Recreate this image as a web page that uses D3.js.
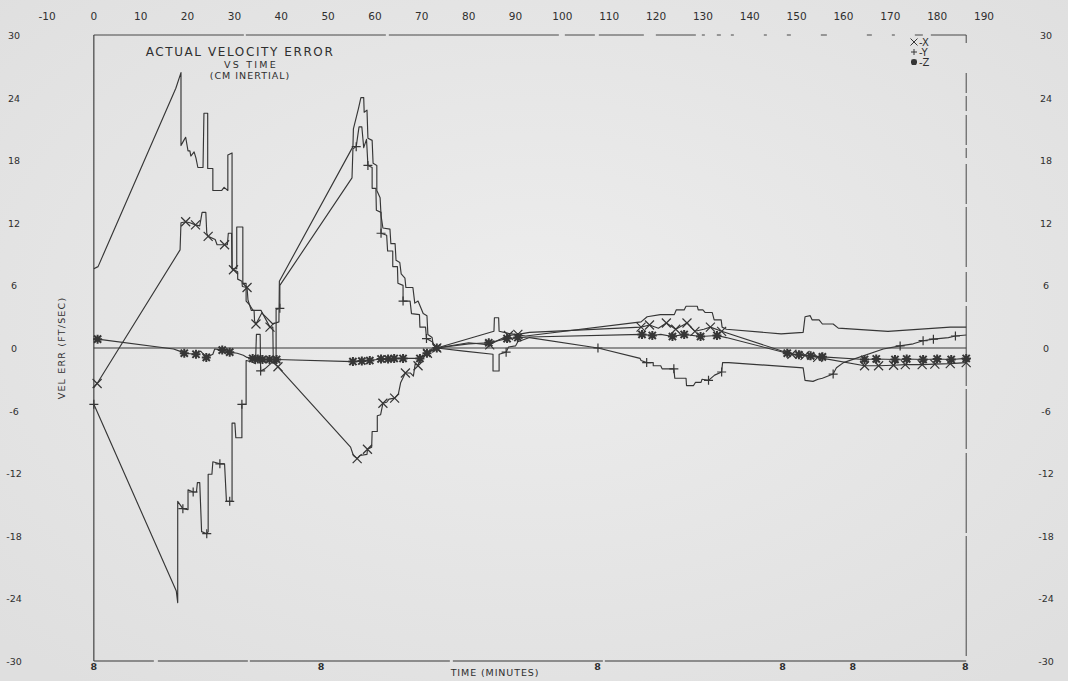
<!DOCTYPE html>
<html>
<head>
<meta charset="utf-8">
<script src="https://cdn.jsdelivr.net/npm/d3@7"></script>
<style>
  html, body { margin: 0; padding: 0; background: #e3e3e3; }
  svg { display: block; }
  text { font-family: "DejaVu Sans", sans-serif; fill: #2f2f2f; }
</style>
</head>
<body>
<div id="chart"></div>
<script>
// tick labels
const timeTicks = [-10, 0, 10, 20, 30, 40, 50, 60, 70, 80, 90, 100, 110, 120, 130, 140, 150, 160, 170, 180, 190];
const velTicks = [30, 24, 18, 12, 6, 0, -6, -12, -18, -24, -30];
const bottomMarks = [0, 48.5, 107.5, 147, 162, 186];   // the little "8" flags under the frame
const titleLines = ['ACTUAL VELOCITY ERROR', 'VS TIME', '(CM INERTIAL)'];

// [minutes, ft/sec, marker?]
const magPts = [[0,7.6],[0.9,7.8],[17.5,24.9],[18.6,26.4],[18.6,19.4],[19.2,19.9],[19.6,20.2],[20.1,18.9],[20.5,18.9],
  [20.7,18.4],[21.4,18.8],[21.8,18.2],[22.2,17.3],[23.3,17.3],[23.5,22.5],[24.3,22.5],[24.3,17.2],[25.4,17.2],[25.4,15.1],
  [27.3,15.1],[27.8,15.4],[28.6,15.1],[28.6,18.5],[29.5,18.7],[29.5,7.6],[30.5,7.6],[30.5,11.6],[31.8,11.6],[31.8,6.2],
  [32.5,6.2],[32.5,4.5],[33.3,4.1],[34.0,3.6],[35.7,3.6],[36.0,3.3],[38.2,2.3],[39.5,2.5],[39.6,6.4],[55.3,19.3],[55.4,21.0],
  [56.5,23.0],[57.0,24.0],[57.6,24.0],[57.7,22.6],[58.3,22.8],[58.5,20.1],[59.4,19.9],[59.6,17.7],[60.4,17.5],[60.4,15.1],
  [61.1,14.4],[61.3,12.7],[61.7,11.5],[63.2,11.4],[63.4,10.0],[64.3,10.0],[64.5,8.4],[65.3,8.2],[65.6,7.1],[66.4,6.7],
  [66.6,5.8],[68.1,5.8],[68.5,4.3],[69.2,4.5],[70.3,3.3],[71.1,3.1],[71.3,1.3],[72.2,1.0],[72.4,0.4],[73.2,0],[85.4,1.6],
  [85.5,2.9],[86.4,2.9],[86.5,1.6],[88.5,1.4],[92.2,1.15],[116.8,2.5],[118.1,3.0],[120.9,3.2],[123.9,3.2],[124.3,3.65],
  [126.0,3.65],[126.4,4.0],[128.8,4.0],[129.0,3.65],[130.0,3.65],[130.5,3.4],[132.0,3.4],[132.4,2.7],[133.9,2.7],[134.1,2.0],
  [135.0,1.8],[146.7,1.35],[151.4,1.5],[151.8,3.0],[152.9,3.1],[153.3,2.7],[154.8,2.7],[155.5,2.3],[157.8,2.3],[158.9,1.9],
  [169.5,1.6],[182.8,2.0],[186.2,2.0]];

const xPts = [[0,-3.8],[0.7,-3.4,1],[18.4,9.4],[18.6,12.0],[19.6,12.1,1],[20.5,12.0],[21.7,11.8,1],[22.6,11.7],[23.1,13.0],
  [23.9,13.0],[24.1,11.0],[24.4,10.7,1],[25.9,10.4],[26.3,9.9],[27.9,9.9,1],[28.5,9.9],[28.7,11.0],[29.4,11.0],[29.5,7.6],
  [29.8,7.5,1],[30.7,7.3],[30.7,6.6],[31.6,6.4],[31.7,5.9],[32.7,5.8,1],[32.9,4.6],[33.6,3.6],[34.2,3.6],[34.3,2.6],
  [34.6,2.3,1],[35.9,3.4],[37.6,2.0,1],[38.2,2.0],[38.3,-1.4],[39.3,-1.8,1],[54.8,-9.5],[55.4,-10.3],[56.2,-10.6,1],
  [56.8,-10.3],[58.3,-10.2],[58.4,-9.7,1],[59.3,-9.5],[59.4,-8.0],[60.5,-8.0],[60.5,-6.5],[61.2,-6.4],[61.7,-5.3,1],
  [62.5,-5.2],[63.0,-4.9],[64.2,-4.8,1],[65.0,-4.4],[65.5,-3.3],[66.5,-2.4,1],[67.6,-2.4],[68.2,-2.7],[68.6,-1.5],
  [69.2,-1.7,1],[69.6,-0.9],[71.2,-0.5,1],[73.2,0,1],[80,0.5],[84.5,0.3,1],[86.5,0.8],[88.5,1.2,1],[90.5,1.3,1],[93,1.5],
  [116.8,2.0,1],[118.6,2.2,1],[120.5,1.9],[122.2,2.4,1],[124.2,1.8,1],[126.6,2.4,1],[128.3,1.6,1],[130.2,1.8],[131.6,2.0,1],
  [134,1.6,1],[149,-0.6,1],[151.8,-0.7,1],[154.5,-0.9,1],[164.5,-1.7,1],[167.5,-1.7,1],[170.7,-1.65,1],[173.2,-1.6,1],
  [176.8,-1.6,1],[179.5,-1.55,1],[182.8,-1.5,1],[186.2,-1.4,1]];

const yPts = [[0,-5.4,1],[17.6,-23.3],[17.9,-24.4],[17.9,-14.7],[19.0,-15.4,1],[20.1,-15.5],[20.1,-13.6],[21.2,-13.8,1],
  [21.9,-13.8],[22.1,-12.9],[22.6,-12.9],[23.0,-17.6],[24.1,-17.8,1],[24.4,-17.6],[24.4,-12.1],[25.2,-12.1],[25.4,-10.9],
  [26.9,-11.1,1],[27.9,-11.1],[28.3,-14.7],[29.0,-14.7,1],[29.5,-14.7],[29.5,-7.2],[30.1,-7.2],[30.3,-8.6],[31.6,-8.6],
  [31.6,-5.4,1],[32.5,-5.4],[32.5,-1.2],[33.5,-1.3],[34.5,-1.5],[34.7,1.3],[35.5,1.3],[35.6,-2.2,1],[36.5,-2.0],[38.0,-1.4],
  [38.9,-1.4],[38.9,3.7],[39.7,3.8,1],[39.7,6.0],[55.1,16.3],[55.3,19.1],[56.0,19.3,1],[56.6,21.2],[57.2,21.2],[57.6,19.2],
  [58.2,20.0],[58.5,17.5,1],[59.4,17.3],[59.4,15.3],[60.2,15.3],[60.3,13.2],[61.3,13.0],[61.3,11.0,1],[62.5,10.8],[62.7,9.3],
  [63.8,9.3],[63.8,7.8],[64.8,7.8],[64.9,6.2],[66.0,6.0],[66.0,4.5,1],[67.5,4.5],[67.8,3.3],[69.5,3.2],[69.6,2.0],[70.8,2.0],
  [71.0,0.9,1],[72.2,0.6],[73.2,0],[79,-0.3],[85.2,-0.6],[85.2,-2.2],[86.5,-2.2],[86.5,-0.6],[88.0,-0.4,1],[88.5,0.1],
  [90.0,0.2],[90.5,0.6],[93.0,1.0],[107.6,0,1],[116.6,-1.0],[116.8,-1.2],[118.0,-1.4,1],[119.4,-1.4],[119.4,-1.7],[121.0,-1.7],
  [121.3,-2.0],[123.8,-2.0,1],[124.0,-2.9],[126.4,-2.9],[126.5,-3.6],[128.0,-3.6],[128.4,-3.3],[129.6,-3.3],[129.8,-3.0],
  [131.2,-3.1,1],[132.5,-2.6],[134.0,-2.3,1],[134.2,-1.4],[135.5,-1.4],[151.4,-1.9],[151.8,-3.1],[153.5,-3.2],[154.6,-3.0],
  [155.5,-2.9],[157.8,-2.5,1],[158.5,-1.9],[160,-1.4],[168.5,-0.1],[172.1,0.2,1],[174.9,0.4],[177.0,0.7,1],[179.2,0.85,1],
  [182.4,1.0],[183.9,1.15,1],[186.2,1.25]];

const zPts = [[0,0.9],[0.8,0.85,1],[17.0,-0.1],[18.3,-0.3],[19.3,-0.5,1],[21.8,-0.6,1],[22.8,-0.3],[24.0,-0.9,1],[25.4,-0.6],
  [25.8,-0.1],[27.4,-0.2,1],[29.0,-0.4,1],[30.6,-0.5],[31.9,-0.7],[32.7,-0.9],[33.9,-1.0,1],[35.0,-1.05,1],[36.0,-1.1,1],
  [37.5,-1.1,1],[39.0,-1.1,1],[55.3,-1.3,1],[57.2,-1.25,1],[58.9,-1.2,1],[61.3,-1.05,1],[62.8,-1.05,1],[64.1,-1.0,1],
  [66.0,-1.0,1],[69.6,-1.0,1],[71.1,-0.5,1],[72.2,-0.2],[73.2,0,1],[80,0.4],[84.3,0.5,1],[88.2,0.9,1],[90.5,1.0,1],[93,1.05],
  [117.0,1.3,1],[119.2,1.2,1],[121.0,1.3],[123.5,1.1,1],[126.0,1.3,1],[129.5,1.1,1],[133.0,1.2,1],[135.0,1.0],[148.0,-0.5,1],
  [150.5,-0.65,1],[153.0,-0.75,1],[155.5,-0.85,1],[164.5,-1.1,1],[167.0,-1.05,1],[171.0,-1.1,1],[173.5,-1.05,1],
  [177.0,-1.1,1],[180.0,-1.05,1],[183.0,-1.1,1],[186.2,-1.0,1]];

const zeroPts = [[0,0],[186.2,0]];

const legendItems = [['x', '-X'], ['plus', '-Y'], ['star', '-Z']];

function velocityChart() {
    const width = 1068,
        height = 681,
        ink = '#363636',
        tMin = 0, tMax = 186.2;   // frame edges in minutes

    const x = d3.scaleLinear().domain([-10, 190]).range([47, 984]);
    const y = d3.scaleLinear().domain([-30, 30]).range([661, 35]);

    const svg = d3.select('#chart').append('svg')
        .attr('width', width)
        .attr('height', height);

    // scanned paper look
    const grad = svg.append('defs').append('radialGradient')
        .attr('id', 'paper').attr('cx', '50%').attr('cy', '45%').attr('r', '70%');
    grad.append('stop').attr('offset', '0%').attr('stop-color', '#ededed');
    grad.append('stop').attr('offset', '100%').attr('stop-color', '#dfdfdf');
    svg.append('rect').attr('width', width).attr('height', height).attr('fill', 'url(#paper)');

    // frame: left/bottom solid, top/right broken like the plotter pen
    const frame = svg.append('g').attr('fill', 'none').attr('stroke', ink).attr('stroke-width', 1.1);
    frame.append('line').attr('x1', x(tMin)).attr('x2', x(tMin)).attr('y1', y(30)).attr('y2', y(-30));
    frame.append('line').attr('x1', x(tMin)).attr('x2', x(tMax)).attr('y1', y(-30)).attr('y2', y(-30))
        .attr('stroke-dasharray', '60 4 90 2 200 3 150 2 400');
    frame.append('line').attr('x1', x(tMin)).attr('x2', x(tMax)).attr('y1', y(30)).attr('y2', y(30))
        .attr('stroke-dasharray', '150 2 140 3 170 6 30 4 45 12 40 6 3 12 4 10 3 30 3 20 4 30 6 40 5 20 3 20 8 8 60 20')
        .attr('stroke-width', 0.9);
    frame.append('line').attr('x1', x(tMax)).attr('x2', x(tMax)).attr('y1', y(30)).attr('y2', y(-30))
        .attr('stroke-dasharray', '8 30 20 3 15 4 30 3 10 6 40 3 60 5 30 4 80 3 60 4 80 3 120')
        .attr('stroke-width', 0.9);

    // tick labels
    svg.append('g').selectAll('text').data(timeTicks).join('text')
        .attr('x', d => x(d)).attr('y', 20)
        .attr('text-anchor', 'middle')
        .attr('font-size', 10.5)
        .text(d => d);
    [14, 1046].forEach(px => {
        svg.append('g').selectAll('text').data(velTicks).join('text')
            .attr('x', px).attr('y', d => y(d) + 4)
            .attr('text-anchor', 'middle')
            .attr('font-size', 9.5)
            .text(d => d);
    });
    svg.append('g').selectAll('text').data(bottomMarks).join('text')
        .attr('x', d => x(d)).attr('y', y(-30) + 9)
        .attr('text-anchor', 'middle')
        .attr('font-size', 9.5)
        .attr('font-weight', 'bold')
        .text('8');

    // axis titles
    svg.append('text')
        .attr('transform', `translate(65,${y(0)}) rotate(-90)`)
        .attr('text-anchor', 'middle')
        .attr('font-size', 9.5)
        .attr('letter-spacing', 1.2)
        .text('VEL ERR (FT/SEC)');
    svg.append('text')
        .attr('x', 495).attr('y', 676)
        .attr('text-anchor', 'middle')
        .attr('font-size', 9.5)
        .attr('letter-spacing', 0.9)
        .text('TIME (MINUTES)');

    // title block: first line larger, the two below tucked under it
    const titleX = [240, 251, 250], titleY = [55.5, 67.5, 79],
        titleSize = [12, 9.5, 9.5], titleSpacing = [1.6, 2.2, 1.0];
    svg.append('g').selectAll('text').data(titleLines).join('text')
        .attr('x', (d, i) => titleX[i]).attr('y', (d, i) => titleY[i])
        .attr('text-anchor', 'middle')
        .attr('font-size', (d, i) => titleSize[i])
        .attr('letter-spacing', (d, i) => titleSpacing[i])
        .text(d => d);

    // traces
    const line = d3.line().x(d => x(d[0])).y(d => y(d[1]));
    const traces = [
        { pts: zeroPts, marker: null },
        { pts: magPts, marker: null },
        { pts: xPts, marker: 'x' },
        { pts: yPts, marker: 'plus' },
        { pts: zPts, marker: 'star' }
    ];

    svg.append('g').selectAll('path').data(traces).join('path')
        .attr('d', d => line(d.pts))
        .attr('fill', 'none')
        .attr('stroke', ink)
        .attr('stroke-width', 1.15)
        .attr('stroke-linejoin', 'round');

    // marker glyphs, drawn as short pen strokes
    function glyph(type, s) {
        if (type === 'x') return `M${-s},${-s}L${s},${s}M${-s},${s}L${s},${-s}`;
        if (type === 'plus') return `M${-s},0L${s},0M0,${-s}L0,${s}`;
        return `M${-s},0L${s},0M0,${-s}L0,${s}M${-s * 0.8},${-s * 0.8}L${s * 0.8},${s * 0.8}M${-s * 0.8},${s * 0.8}L${s * 0.8},${-s * 0.8}`;
    }

    traces.filter(t => t.marker).forEach(t => {
        svg.append('g').selectAll('path').data(t.pts.filter(p => p[2])).join('path')
            .attr('transform', p => `translate(${x(p[0])},${y(p[1])})`)
            .attr('d', glyph(t.marker, 4.5))
            .attr('fill', 'none')
            .attr('stroke', ink)
            .attr('stroke-width', t.marker === 'star' ? 2 : 1.2);
    });

    // legend, top right inside the frame
    const lg = svg.append('g').attr('transform', 'translate(914,42)');
    legendItems.forEach((d, i) => {
        const row = lg.append('g').attr('transform', `translate(0,${i * 10})`);
        row.append('path').attr('d', glyph(d[0], d[0] === 'x' ? 3.5 : 3))
            .attr('fill', 'none').attr('stroke', ink)
            .attr('stroke-width', d[0] === 'star' ? 1.8 : 1);
        row.append('text').attr('x', 5).attr('y', 4)
            .attr('font-size', 10)
            .text(d[1]);
    });
}

velocityChart();
</script>
</body>
</html>
